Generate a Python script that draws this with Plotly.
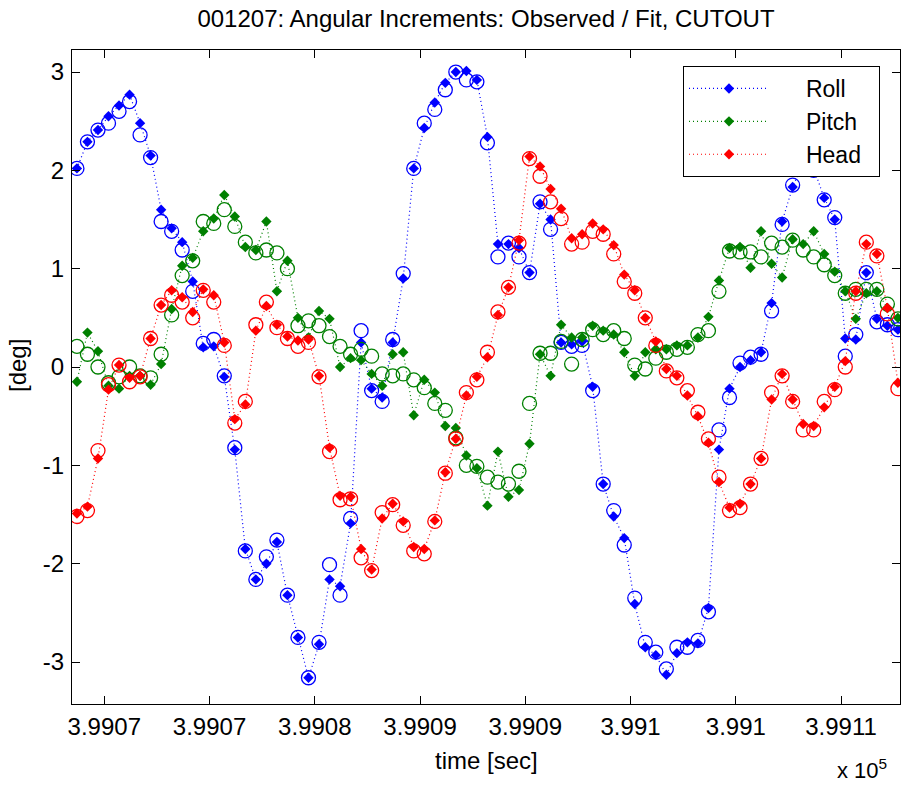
import plotly.graph_objects as go

# sample times [sec]
time_s = [
    399068.7, 399069.2, 399069.7, 399070.2, 399070.7, 399071.2, 399071.7, 399072.2, 399072.7, 399073.2,
    399073.7, 399074.2, 399074.7, 399075.2, 399075.7, 399076.2, 399076.7, 399077.2, 399077.7, 399078.2,
    399078.7, 399079.2, 399079.7, 399080.2, 399080.7, 399081.2, 399081.7, 399082.2, 399082.7, 399083.2,
    399083.7, 399084.2, 399084.7, 399085.2, 399085.7, 399086.2, 399086.7, 399087.2, 399087.7, 399088.2,
    399088.7, 399089.2, 399089.7, 399090.2, 399090.7, 399091.2, 399091.7, 399092.2, 399092.7, 399093.2,
    399093.7, 399094.2, 399094.7, 399095.2, 399095.7, 399096.2, 399096.7, 399097.2, 399097.7, 399098.2,
    399098.7, 399099.2, 399099.7, 399100.2, 399100.7, 399101.2, 399101.7, 399102.2, 399102.7, 399103.2,
    399103.7, 399104.2, 399104.7, 399105.2, 399105.7, 399106.2, 399106.7, 399107.2, 399107.7,
]

roll_obs = [
    2.02, 2.29, 2.41, 2.55, 2.66, 2.77, 2.48, 2.15, 1.60, 1.41,
    1.27, 0.87, 0.20, 0.21, -0.10, -0.84, -1.85, -2.16, -2.00, -1.78,
    -2.32, -2.75, -3.16, -2.82, -2.16, -2.23, -1.59, 0.25, -0.22, -0.31,
    0.25, 0.90, 2.02, 2.43, 2.69, 2.89, 3.00, 3.01, 2.92, 2.34,
    1.25, 1.25, 1.21, 0.96, 1.66, 1.50, 0.25, 0.23, 0.26, -0.20,
    -1.19, -1.52, -1.74, -2.41, -2.85, -2.93, -3.13, -2.91, -2.80, -2.81,
    -2.45, -0.84, -0.22, 0.00, 0.07, 0.15, 0.65, 1.48, 1.83, 2.08,
    2.02, 1.72, 1.50, 0.29, 0.28, 0.96, 0.49, 0.42, 0.38,
]
roll_fit = [
    2.02, 2.29, 2.41, 2.48, 2.60, 2.70, 2.36, 2.13, 1.48, 1.38,
    1.19, 0.77, 0.24, 0.28, -0.09, -0.82, -1.87, -2.16, -1.93, -1.76,
    -2.32, -2.75, -3.16, -2.80, -2.01, -2.32, -1.54, 0.37, -0.24, -0.35,
    0.28, 0.95, 2.02, 2.48, 2.62, 2.82, 3.00, 2.92, 2.90, 2.28,
    1.12, 1.26, 1.12, 0.96, 1.68, 1.40, 0.25, 0.21, 0.22, -0.24,
    -1.19, -1.46, -1.81, -2.35, -2.80, -2.90, -3.07, -2.85, -2.85, -2.78,
    -2.49, -0.64, -0.31, 0.04, 0.10, 0.13, 0.57, 1.45, 1.85, 2.05,
    2.00, 1.70, 1.52, 0.11, 0.33, 0.96, 0.46, 0.43, 0.38,
]
pitch_obs = [
    -0.15, 0.35, 0.16, -0.19, -0.22, -0.09, -0.09, -0.18, 0.03, 0.59,
    1.03, 1.11, 1.38, 1.51, 1.75, 1.53, 1.22, 1.19, 1.48, 0.77,
    1.08, 0.50, 0.30, 0.57, 0.49, 0.00, 0.09, 0.07, -0.07, -0.19,
    0.13, 0.15, -0.49, -0.13, -0.26, -0.60, -0.62, -0.90, -1.03, -1.41,
    -0.86, -1.32, -1.25, -0.78, 0.13, -0.09, 0.43, 0.30, 0.30, 0.42,
    0.37, 0.33, 0.15, -0.09, 0.15, 0.18, 0.18, 0.22, 0.22, 0.30,
    0.51, 0.88, 1.21, 1.22, 1.01, 1.38, 1.05, 0.91, 1.30, 1.25,
    1.38, 1.15, 0.97, 0.77, 0.49, 0.75, 0.77, 0.60, 0.50,
]
pitch_fit = [
    0.21, 0.13, 0.00, -0.16, -0.10, 0.00, -0.09, -0.11, 0.13, 0.53,
    0.93, 1.08, 1.48, 1.46, 1.60, 1.43, 1.27, 1.16, 1.19, 1.16,
    1.00, 0.42, 0.47, 0.42, 0.31, 0.21, 0.13, 0.18, 0.11, -0.07,
    -0.09, -0.07, -0.13, -0.21, -0.37, -0.44, -0.72, -1.00, -1.01, -1.12,
    -1.17, -1.19, -1.06, -0.37, 0.14, 0.14, 0.26, 0.03, 0.28, 0.38,
    0.33, 0.37, 0.29, 0.02, -0.02, 0.09, 0.15, 0.18, 0.20, 0.33,
    0.37, 0.77, 1.18, 1.17, 1.17, 1.12, 1.26, 1.22, 1.29, 1.19,
    1.12, 1.04, 0.93, 0.75, 0.79, 0.79, 0.79, 0.64, 0.49,
]
head_obs = [
    -1.49, -1.42, -0.93, -0.23, 0.02, -0.11, -0.09, 0.29, 0.63, 0.78,
    0.71, 0.56, 0.79, 0.73, 0.25, -0.53, -0.38, 0.37, 0.62, 0.43,
    0.31, 0.27, 0.28, -0.09, -0.82, -1.31, -1.32, -1.85, -2.06, -1.54,
    -1.39, -1.57, -1.83, -1.85, -1.56, -1.07, -0.73, -0.29, -0.10, 0.10,
    0.53, 0.81, 1.29, 2.14, 2.04, 1.81, 1.61, 1.31, 1.35, 1.46,
    1.40, 1.24, 0.94, 0.78, 0.50, 0.26, -0.02, -0.09, -0.29, -0.50,
    -0.77, -1.17, -1.43, -1.39, -1.19, -0.93, -0.33, -0.07, -0.33, -0.58,
    -0.60, -0.41, -0.20, 0.06, 0.77, 1.25, 1.15, 0.60, -0.16,
]
head_fit = [
    -1.52, -1.46, -0.85, -0.18, 0.02, -0.15, -0.10, 0.29, 0.63, 0.73,
    0.66, 0.50, 0.78, 0.66, 0.22, -0.57, -0.35, 0.43, 0.66, 0.40,
    0.29, 0.21, 0.25, -0.10, -0.86, -1.35, -1.34, -1.94, -2.07, -1.48,
    -1.40, -1.61, -1.87, -1.90, -1.57, -1.08, -0.73, -0.26, -0.13, 0.15,
    0.56, 0.81, 1.26, 2.12, 1.94, 1.68, 1.51, 1.25, 1.27, 1.38,
    1.35, 1.15, 0.87, 0.75, 0.50, 0.22, -0.04, -0.11, -0.24, -0.46,
    -0.73, -1.12, -1.46, -1.43, -1.19, -0.93, -0.26, -0.09, -0.35, -0.64,
    -0.64, -0.35, -0.23, 0.00, 0.75, 1.27, 1.13, 0.54, -0.22,
]

series_names = ["Roll", "Pitch", "Head"]
series_colors = ["#0000ff", "#008000", "#ff0000"]
x_tickvals = [399070, 399075, 399080, 399085, 399090, 399095, 399100, 399105]
x_ticktext = ["3.9907", "3.9907", "3.9908", "3.9909", "3.9909", "3.991", "3.991", "3.9911"]
y_tickvals = [-3, -2, -1, 0, 1, 2, 3]
y_ticktext = ["-3", "-2", "-1", "0", "1", "2", "3"]

FONT = "Liberation Sans, Arial, Helvetica, sans-serif"
FS = 24
NB = "\u00a0"

fig = go.Figure()
for name, color, obs, fit in zip(series_names, series_colors,
                                 [roll_obs, pitch_obs, head_obs],
                                 [roll_fit, pitch_fit, head_fit]):
    fig.add_trace(go.Scatter(
        x=time_s, y=obs, mode="lines+markers", name=NB * 5 + name + NB * 2,
        line=dict(color=color, width=1.2, dash="1px,3px"),
        marker=dict(symbol="diamond", size=8, color=color, line=dict(width=0)),
    ))
    fig.add_trace(go.Scatter(
        x=time_s, y=fit, mode="markers", name=name + " fit", showlegend=False,
        marker=dict(symbol="circle-open", size=14, color=color, line=dict(width=1.3, color=color)),
    ))

W, H = 902, 787
L, R, T, B = 72, 2, 50, 83
pw, ph = W - L - R, H - T - B

axis_common = dict(
    showline=True, linecolor="black", linewidth=1, mirror="ticks",
    ticks="inside", ticklen=8, tickwidth=1, tickcolor="black",
    showgrid=False, zeroline=False,
    tickfont=dict(family=FONT, size=FS, color="black"),
)

fig.update_layout(
    width=W, height=H,
    margin=dict(l=L, r=R, t=T, b=B),
    paper_bgcolor="white", plot_bgcolor="white",
    font=dict(family=FONT, size=FS, color="black"),
    title=dict(text="001207: Angular Increments: Observed / Fit, CUTOUT",
               x=0.5, xref="paper", xanchor="center",
               y=1 - 19 / H, yref="container", yanchor="middle",
               font=dict(family=FONT, size=FS, color="black")),
    xaxis=dict(range=[399068.466, 399107.8], tickvals=x_tickvals, ticktext=x_ticktext,
               ticklabelstandoff=1, **axis_common),
    yaxis=dict(range=[-3.427, 3.224], tickvals=y_tickvals, ticktext=y_ticktext,
               ticklabelstandoff=2, **axis_common),
    legend=dict(x=(880 - L) / pw, y=1 - (66 - T) / ph, xanchor="right", yanchor="top",
                bgcolor="white", bordercolor="black", borderwidth=1,
                font=dict(family=FONT, size=23, color="black"),
                itemwidth=80, tracegroupgap=0),
    showlegend=True,
    annotations=[
        dict(text="time [sec]", xref="paper", yref="paper",
             x=(486 - L) / pw, y=-(760 - (T + ph)) / ph, xanchor="center", yanchor="middle",
             showarrow=False, font=dict(family=FONT, size=FS, color="black")),
        dict(text="[deg]", xref="paper", yref="paper", textangle=-90,
             x=(18 - L) / pw, y=(T + ph - 366) / ph, xanchor="center", yanchor="middle",
             showarrow=False, font=dict(family=FONT, size=FS, color="black")),
        dict(text="x 10<sup>5</sup>", xref="paper", yref="paper",
             x=(862 - L) / pw, y=-(785 - (T + ph)) / ph, xanchor="center", yanchor="bottom",
             showarrow=False, font=dict(family=FONT, size=22, color="black")),
    ],
)

fig.write_html("out.html")
